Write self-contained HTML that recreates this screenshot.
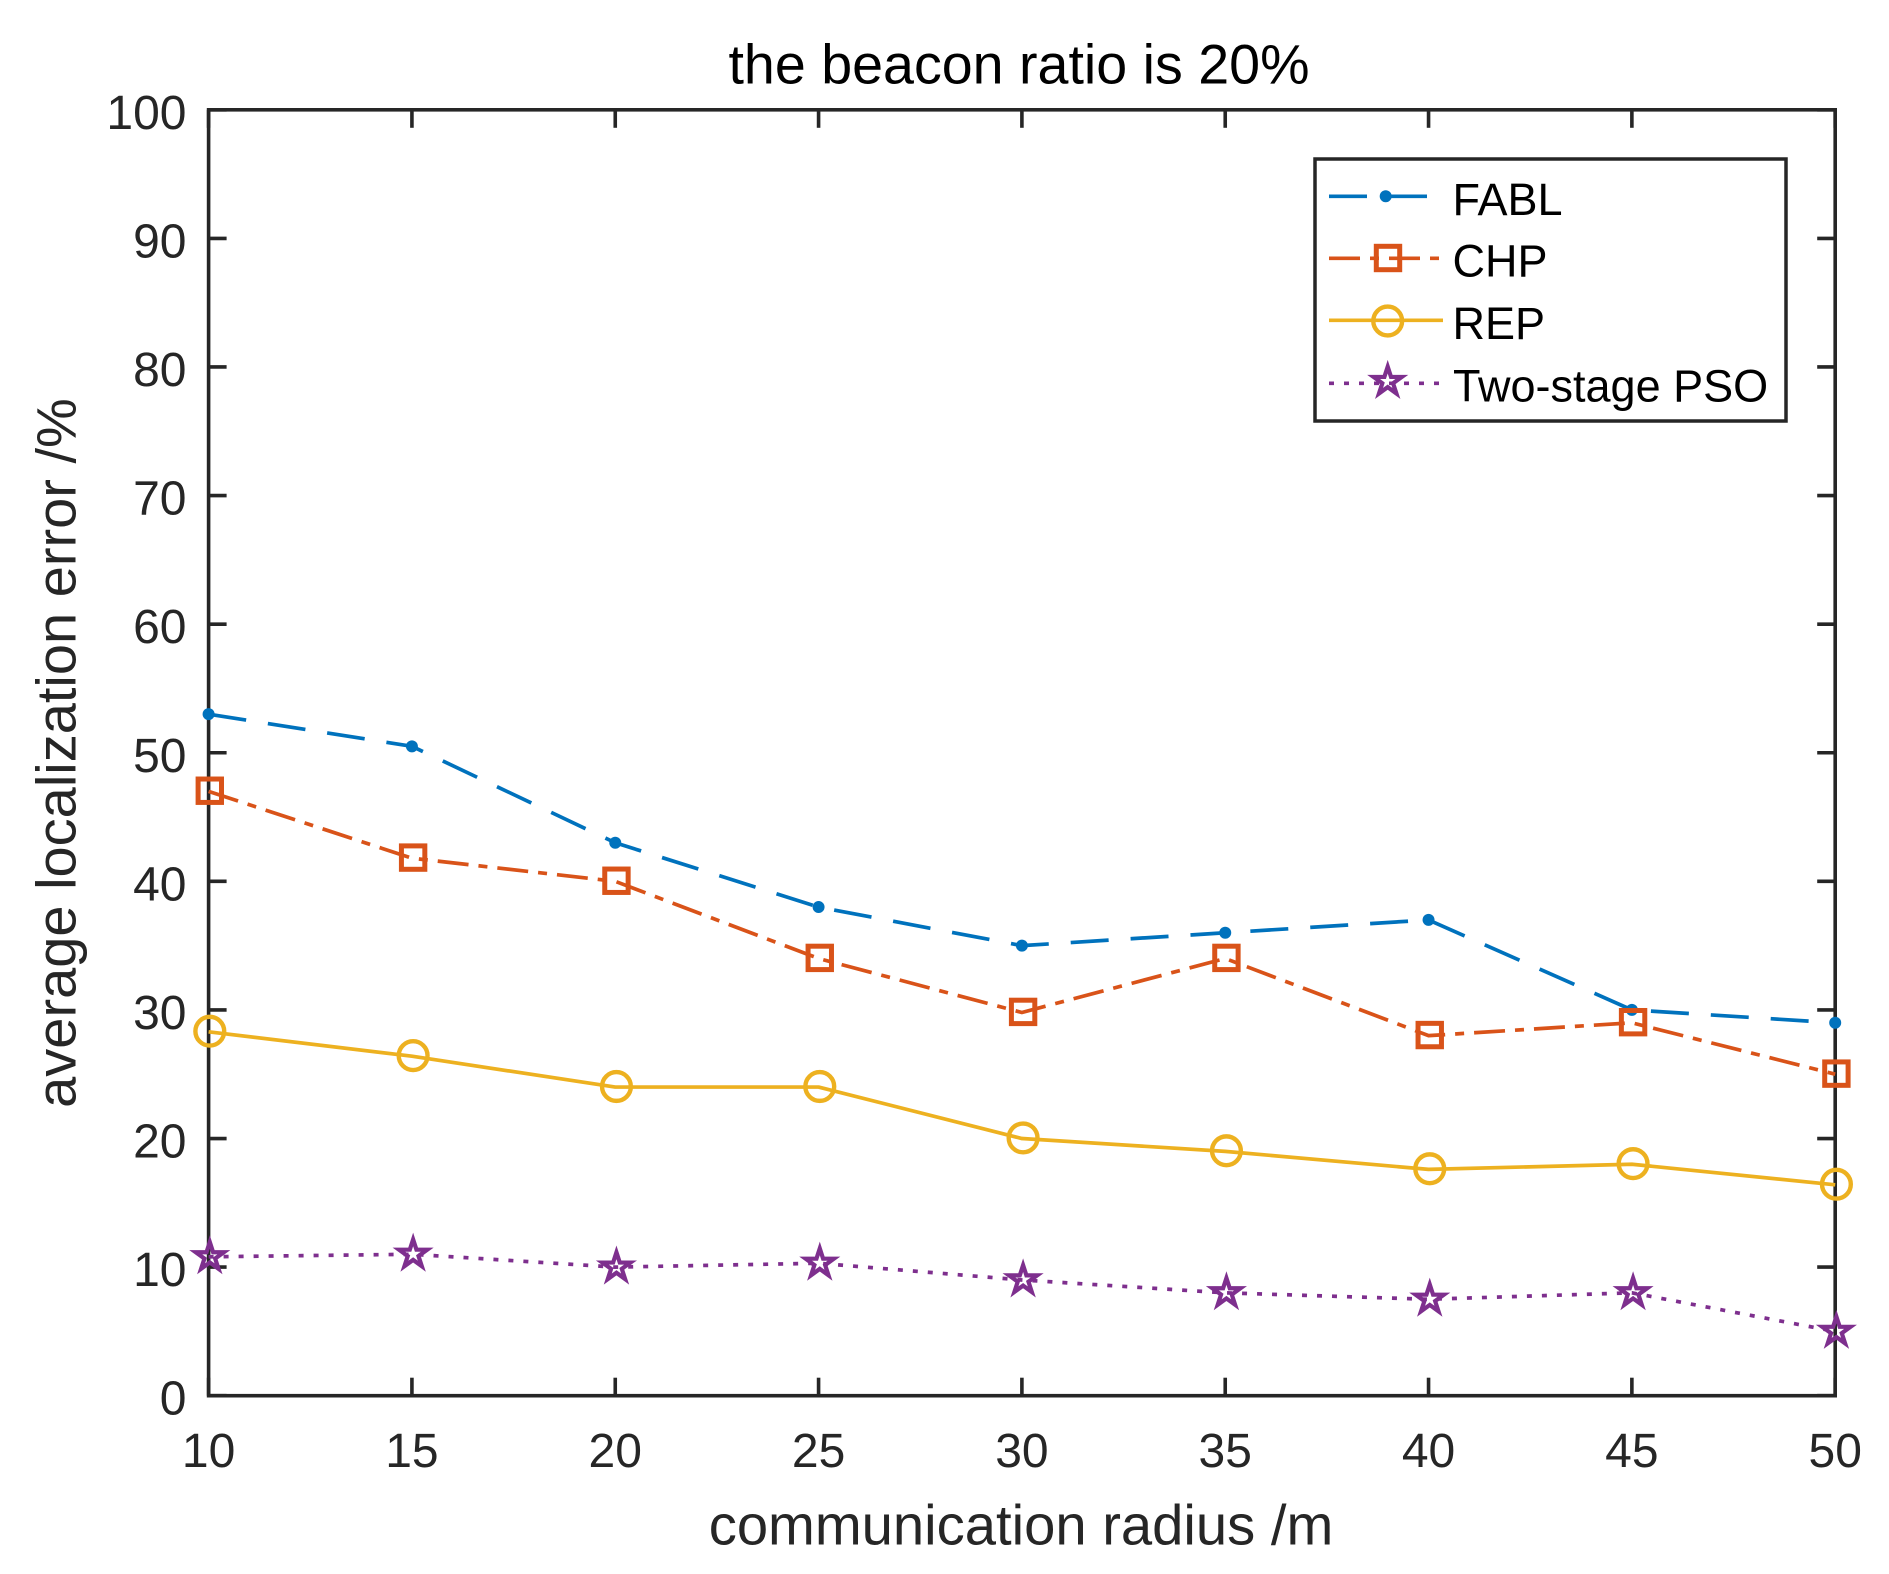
<!DOCTYPE html>
<html lang="en">
<head>
<meta charset="utf-8">
<title>the beacon ratio is 20%</title>
<style>
  html, body { margin: 0; padding: 0; background: #fff; }
  svg { display: block; font-family: "Liberation Sans", Arial, sans-serif; }
</style>
</head>
<body>
<svg id="chart" xmlns="http://www.w3.org/2000/svg" width="1889" height="1574" viewBox="0 0 1889 1574">
  <rect x="0" y="0" width="1889" height="1574" fill="#fff"/>
  <text x="1019" y="83.3" font-size="55.6" text-anchor="middle" fill="#000">the beacon ratio is 20%</text>
  <text x="1021" y="1544.3" font-size="56.2" text-anchor="middle" fill="#262626">communication radius /m</text>
  <text transform="translate(75.7 753) rotate(-90)" font-size="56" text-anchor="middle" fill="#262626">average localization error /%</text>
  <g id="axes"></g>
  <g id="series"></g>
  <g id="legend">
    <rect x="1315" y="159" width="471" height="262" fill="#fff" stroke="#262626" stroke-width="3.5"/>
    <text x="1452.5" y="215" font-size="45" fill="#000">FABL</text>
    <text x="1452.5" y="276.7" font-size="45" fill="#000">CHP</text>
    <text x="1452.5" y="339" font-size="45" fill="#000">REP</text>
    <text x="1453" y="401.7" font-size="45" fill="#000">Two-stage PSO</text>
  </g>
</svg>
<script>
// Chart data
const radiusValues = [10, 15, 20, 25, 30, 35, 40, 45, 50];
const fablValues = [53, 50.5, 43, 38, 35, 36, 37, 30, 29];
const chpValues = [47, 41.8, 40, 34, 29.8, 34, 28, 29, 25];
const repValues = [28.3, 26.4, 24, 24, 20, 19, 17.6, 18, 16.4];
const psoValues = [10.8, 11, 10, 10.3, 9, 8, 7.5, 8, 5];
const xTickLabels = [10, 15, 20, 25, 30, 35, 40, 45, 50];
const yTickLabels = [0, 10, 20, 30, 40, 50, 60, 70, 80, 90, 100];

const SVG_NS = 'http://www.w3.org/2000/svg';
const plot = { left: 208.6, right: 1835.2, top: 109.8, bottom: 1395.7 };
const xDomain = [10, 50];
const yDomain = [0, 100];
const INK = '#262626';
const AXIS_WIDTH = 3.6;

function xScale(v) {
  return plot.left + (v - xDomain[0]) / (xDomain[1] - xDomain[0]) * (plot.right - plot.left);
}
function yScale(v) {
  return plot.bottom - (v - yDomain[0]) / (yDomain[1] - yDomain[0]) * (plot.bottom - plot.top);
}
function make(tag, attrs, parent) {
  const el = document.createElementNS(SVG_NS, tag);
  for (const k in attrs) el.setAttribute(k, attrs[k]);
  parent.appendChild(el);
  return el;
}

const axes = document.getElementById('axes');
const seriesLayer = document.getElementById('series');
const legend = document.getElementById('legend');

// Plot frame
const frame = make('rect', { x: plot.left, y: plot.top, width: plot.right - plot.left, height: plot.bottom - plot.top, fill: 'none', stroke: INK, 'stroke-width': AXIS_WIDTH }, axes);



// X ticks and labels
xTickLabels.forEach(function (t) {
  const x = xScale(t);
  const bottomTick = make('line', { x1: x, x2: x, y1: plot.bottom, y2: plot.bottom - 18, stroke: INK, 'stroke-width': AXIS_WIDTH }, axes);
  
  
  const topTick = make('line', { x1: x, x2: x, y1: plot.top, y2: plot.top + 18, stroke: INK, 'stroke-width': AXIS_WIDTH }, axes);
  
  
  const label = make('text', { x: x, y: 1466.8, 'font-size': 48, 'text-anchor': 'middle', fill: INK }, axes);
  
  
  label.textContent = String(t);
});

// Y ticks and labels
yTickLabels.forEach(function (t) {
  const y = yScale(t);
  const leftTick = make('line', { x1: plot.left, x2: plot.left + 18, y1: y, y2: y, stroke: INK, 'stroke-width': AXIS_WIDTH }, axes);
  
  
  const rightTick = make('line', { x1: plot.right, x2: plot.right - 18, y1: y, y2: y, stroke: INK, 'stroke-width': AXIS_WIDTH }, axes);
  
  
  const label = make('text', { x: 186.5, y: y + 19, 'font-size': 48, 'text-anchor': 'end', fill: INK }, axes);
  
  
  label.textContent = String(t);
});

// Marker drawing
function drawDot(parent, cx, cy, color) {
  return make('circle', { cx: cx, cy: cy, r: 6, fill: color }, parent);
}
function drawSquare(parent, cx, cy, color) {
  return make('rect', { x: cx - 11.7, y: cy - 11.7, width: 23.4, height: 23.4, fill: 'none', stroke: color, 'stroke-width': 5 }, parent);
}
function drawCircle(parent, cx, cy, color) {
  return make('circle', { cx: cx, cy: cy, r: 14.4, fill: 'none', stroke: color, 'stroke-width': 4.4 }, parent);
}
function drawStar(parent, cx, cy, color) {
  const pts = [];
  for (let i = 0; i < 10; i++) {
    const r = i % 2 === 0 ? 14.8 : 5.65;
    const a = -Math.PI / 2 + i * Math.PI / 5;
    pts.push((cx + r * Math.cos(a)).toFixed(2) + ',' + (cy + r * Math.sin(a)).toFixed(2));
  }
  return make('polygon', { points: pts.join(' '), fill: 'none', stroke: color, 'stroke-width': 4.2, 'stroke-miterlimit': 10 }, parent);
}

// Series lines and marks
const LINE_WIDTH = 3.7;

function drawSeries(values, color, dash, drawMarker, dx, dy) {
  const pts = values.map(function (v, i) {
    return xScale(radiusValues[i]).toFixed(2) + ',' + yScale(v).toFixed(2);
  }).join(' ');
  const line = make('polyline', { points: pts, fill: 'none', stroke: color, 'stroke-width': LINE_WIDTH, 'stroke-dasharray': dash, 'stroke-linejoin': 'round' }, seriesLayer);
  const marks = values.map(function (v, i) {
    return drawMarker(seriesLayer, xScale(radiusValues[i]) + dx, yScale(v) + dy, color);
  });
  return { line: line, marks: marks };
}

const fablSeries = drawSeries(fablValues, '#0072BD', '38 22', drawDot, 0, 0);


fablSeries.marks.forEach(function (m) {
  
  
});

const chpSeries = drawSeries(chpValues, '#D95319', '31 10 9 10', drawSquare, 1.2, -0.6);


chpSeries.marks.forEach(function (m) {
  
  
});

const repSeries = drawSeries(repValues, '#EDB120', 'none', drawCircle, 1.2, -0.6);


repSeries.marks.forEach(function (m) {
  
  
});

const psoSeries = drawSeries(psoValues, '#7E2F8E', '5 10', drawStar, 1.2, 0);


psoSeries.marks.forEach(function (m) {
  
  
});

// Legend samples
function legendLine(y, color, dash) {
  return make('line', { x1: 1329, x2: 1443, y1: y, y2: y, stroke: color, 'stroke-width': LINE_WIDTH, 'stroke-dasharray': dash }, legend);
}

const fablKey = legendLine(196.3, '#0072BD', '38 22');


const fablKeyMark = drawDot(legend, 1385.7, 196.3, '#0072BD');



const chpKey = legendLine(258.3, '#D95319', '31 10 9 10');


const chpKeyMark = drawSquare(legend, 1388, 258, '#D95319');



const repKey = legendLine(320.3, '#EDB120', 'none');


const repKeyMark = drawCircle(legend, 1387.7, 321, '#EDB120');



const psoKey = legendLine(383.3, '#7E2F8E', '5 10');


const psoKeyMark = drawStar(legend, 1387.7, 381.5, '#7E2F8E');


</script>
</body>
</html>
